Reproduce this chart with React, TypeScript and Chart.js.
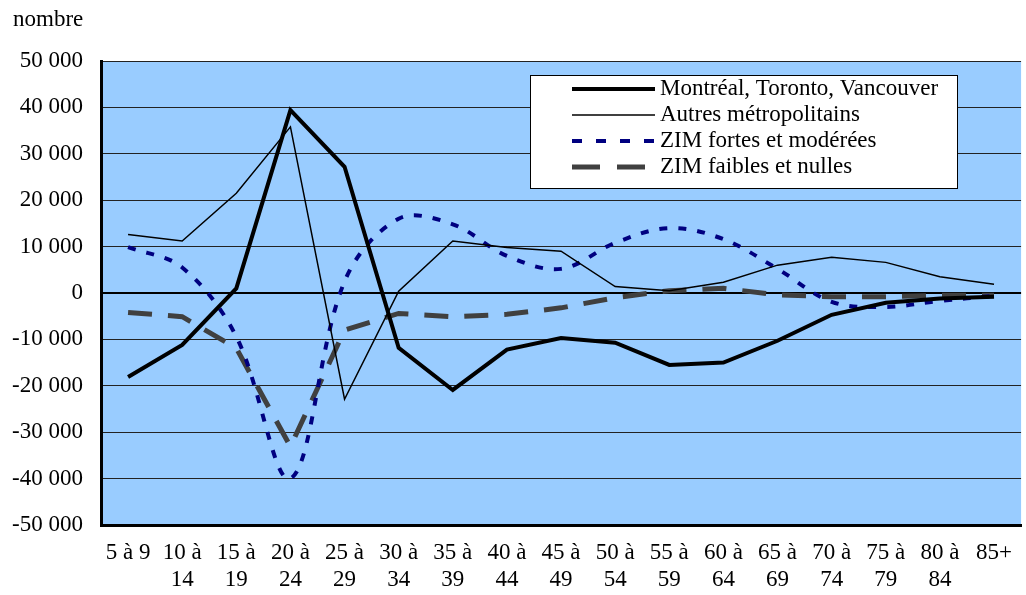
import React, { useEffect, useRef } from "react";
import { Chart, registerables } from "chart.js";

Chart.register(...registerables);

// Age groups (two-line category labels)
const ageGroups: string[][] = [
  ["5 à 9"], ["10 à", "14"], ["15 à", "19"], ["20 à", "24"], ["25 à", "29"],
  ["30 à", "34"], ["35 à", "39"], ["40 à", "44"], ["45 à", "49"], ["50 à", "54"],
  ["55 à", "59"], ["60 à", "64"], ["65 à", "69"], ["70 à", "74"], ["75 à", "79"],
  ["80 à", "84"], ["85+"],
];

// Net migration by age group, per region type
const montrealTorontoVancouver = [
  -18100, -11200, 1000, 39400, 27200, -11800, -20900, -12200, -9700,
  -10700, -15500, -15000, -10300, -4700, -2100, -1200, -800,
];
const autresMetropolitains = [
  12600, 11200, 21500, 35800, -22900, 400, 11200, 9800, 9000,
  1400, 500, 2300, 6000, 7700, 6600, 3500, 1900,
];
const zimFortesModerees = [
  9900, 5500, -9400, -40000, 2500, 16000, 14800, 8000, 5200,
  10800, 14000, 11600, 5200, -1900, -3000, -1700, -600,
];
const zimFaiblesNulles = [
  -4200, -5100, -11900, -33100, -8000, -4400, -5100, -4600, -3200,
  -1000, 500, 1000, -400, -800, -800, -500, -500,
];

const seriesLabels = [
  "Montréal, Toronto, Vancouver",
  "Autres métropolitains",
  "ZIM fortes et modérées",
  "ZIM faibles et nulles",
];

const yMin = -50000;
const yMax = 50000;
const yStep = 10000;
const yUnit = "nombre";

const FONT = "'Liberation Serif', 'Times New Roman', serif";
const FONT_SIZE = 23;

function formatThousands(v: number): string {
  const s = Math.abs(v).toString().replace(/\B(?=(\d{3})+(?!\d))/g, " ");
  return (v < 0 ? "-" : "") + s;
}

// Light-blue plot background
const plotBackground = {
  id: "plotBackground",
  beforeDraw(chart: any) {
    const { ctx, chartArea } = chart;
    ctx.save();
    ctx.fillStyle = "#99CCFF";
    ctx.fillRect(chartArea.left, chartArea.top, chartArea.right - chartArea.left, chartArea.bottom - chartArea.top);
    ctx.restore();
  },
};

// Unit label above the value axis
const unitLabel = {
  id: "unitLabel",
  afterDraw(chart: any) {
    const { ctx } = chart;
    ctx.save();
    ctx.font = `${FONT_SIZE}px ${FONT}`;
    ctx.fillStyle = "#000";
    ctx.textAlign = "left";
    ctx.textBaseline = "middle";
    ctx.fillText(yUnit, 13, 20);
    ctx.restore();
  },
};

// Boxed legend inside the plot area
const boxedLegend = {
  id: "boxedLegend",
  afterDraw(chart: any) {
    const { ctx } = chart;
    const box = { x: 530.5, y: 75.5, w: 427, h: 113 };
    ctx.save();
    ctx.fillStyle = "#fff";
    ctx.fillRect(box.x, box.y, box.w, box.h);
    ctx.strokeStyle = "#000";
    ctx.lineWidth = 1;
    ctx.strokeRect(box.x, box.y, box.w, box.h);
    ctx.font = `${FONT_SIZE}px ${FONT}`;
    ctx.textAlign = "left";
    ctx.textBaseline = "middle";
    chart.data.datasets.forEach((ds: any, i: number) => {
      const y = 89 + i * 26;
      ctx.beginPath();
      ctx.strokeStyle = ds.borderColor;
      ctx.lineWidth = ds.borderWidth;
      ctx.setLineDash(ds.legendDash || []);
      ctx.lineCap = "butt";
      ctx.moveTo(572, y);
      ctx.lineTo(655, y);
      ctx.stroke();
      ctx.setLineDash([]);
      ctx.fillStyle = "#000";
      ctx.fillText(ds.label, 660, y);
    });
    ctx.restore();
  },
};

export default function App() {
  const canvasRef = useRef<HTMLCanvasElement | null>(null);

  useEffect(() => {
    if (!canvasRef.current) return;
    const chart = new Chart(canvasRef.current, {
      type: "line",
      data: {
        labels: ageGroups,
        datasets: [
          {
            label: seriesLabels[0],
            data: montrealTorontoVancouver,
            borderColor: "#000000",
            borderWidth: 4,
            pointRadius: 0,
            tension: 0,
          },
          {
            label: seriesLabels[1],
            data: autresMetropolitains,
            borderColor: "#000000",
            borderWidth: 1.5,
            pointRadius: 0,
            tension: 0,
          },
          {
            label: seriesLabels[2],
            data: zimFortesModerees,
            borderColor: "#000080",
            borderWidth: 4,
            borderDash: [8, 11],
            legendDash: [10, 14],
            pointRadius: 0,
            tension: 0.35,
          } as any,
          {
            label: seriesLabels[3],
            data: zimFaiblesNulles,
            borderColor: "#404040",
            borderWidth: 5,
            borderDash: [24, 16],
            legendDash: [28, 17],
            pointRadius: 0,
            tension: 0,
          } as any,
        ],
      },
      options: {
        animation: false,
        responsive: true,
        maintainAspectRatio: false,
        layout: { padding: { top: 61, left: 0, right: 0, bottom: 0 } },
        plugins: {
          legend: { display: false },
          tooltip: { enabled: false },
        },
        scales: {
          x: {
            offset: true,
            grid: { display: false, drawTicks: false },
            border: { display: true, color: "#000", width: 3 },
            ticks: {
              color: "#000",
              font: { family: FONT, size: FONT_SIZE, lineHeight: 1.18 },
              padding: 14,
              maxRotation: 0,
              autoSkip: false,
            },
            afterFit(scale: any) {
              scale.height = 70;
            },
          },
          y: {
            min: yMin,
            max: yMax,
            grid: {
              drawTicks: false,
              color: (c: any) => (c.tick && c.tick.value === 0 ? "#000" : "#222"),
              lineWidth: (c: any) => (c.tick && c.tick.value === 0 ? 2 : 1),
            },
            border: { display: true, color: "#000", width: 3 },
            ticks: {
              stepSize: yStep,
              color: "#000",
              font: { family: FONT, size: FONT_SIZE },
              padding: 18,
              callback: (v: any) => formatThousands(Number(v)),
            },
            afterFit(scale: any) {
              scale.width = 101;
            },
          },
        },
      },
      plugins: [plotBackground, unitLabel, boxedLegend],
    });
    return () => chart.destroy();
  }, []);

  return (
    <div style={{ position: "fixed", left: 0, top: 0, width: 1026, height: 595, background: "#fff" }}>
      <canvas ref={canvasRef} />
    </div>
  );
}
